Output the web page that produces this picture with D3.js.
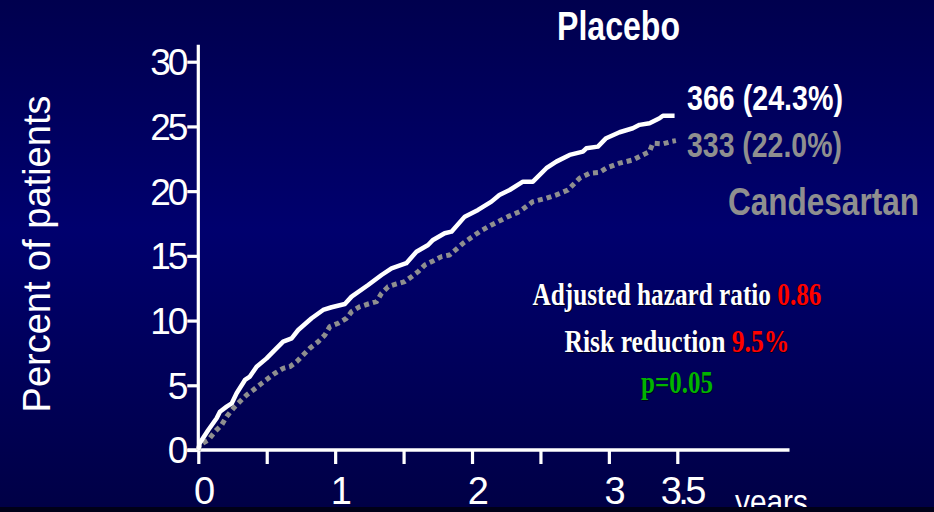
<!DOCTYPE html>
<html>
<head>
<meta charset="utf-8">
<script src="https://cdn.jsdelivr.net/npm/d3@7"></script>
<style>
  html, body { margin: 0; padding: 0; background: #000018; }
  svg { display: block; }
</style>
</head>
<body>
<svg id="chart" width="934" height="512"></svg>
<script>
// ---- Data ----
const placeboYears = [0, 0.01, 0.073, 0.134, 0.158, 0.207, 0.244, 0.28, 0.341, 0.377, 0.426, 0.499, 0.56, 0.62, 0.682, 0.73, 0.828, 0.912, 0.974, 1.071, 1.12, 1.241, 1.339, 1.412, 1.52, 1.594, 1.679, 1.715, 1.8, 1.85, 1.947, 2.044, 2.142, 2.2, 2.275, 2.372, 2.445, 2.543, 2.616, 2.713, 2.81, 2.835, 2.92, 2.98, 3.078, 3.175, 3.224, 3.297, 3.37, 3.395, 3.48];
const placeboPct   = [0, 0.52, 1.55, 2.45, 2.96, 3.35, 3.6, 4.38, 5.41, 5.67, 6.44, 7.08, 7.73, 8.37, 8.63, 9.27, 10.18, 10.82, 11.03, 11.28, 11.85, 12.75, 13.52, 14.04, 14.43, 15.32, 15.84, 16.23, 16.75, 16.87, 18.03, 18.55, 19.19, 19.7, 20.09, 20.73, 20.73, 21.77, 22.28, 22.8, 23.05, 23.31, 23.44, 24.09, 24.55, 24.86, 25.12, 25.25, 25.63, 25.83, 25.83];

const candesartanYears = [0, 0.01, 0.073, 0.122, 0.17, 0.207, 0.256, 0.304, 0.353, 0.402, 0.463, 0.56, 0.62, 0.669, 0.718, 0.766, 0.815, 0.876, 0.925, 0.961, 1.022, 1.083, 1.12, 1.18, 1.241, 1.302, 1.339, 1.387, 1.448, 1.509, 1.558, 1.606, 1.655, 1.715, 1.777, 1.837, 1.934, 2.056, 2.142, 2.263, 2.348, 2.445, 2.543, 2.616, 2.701, 2.786, 2.859, 2.932, 2.98, 3.078, 3.175, 3.248, 3.297, 3.321, 3.394, 3.455, 3.49];
const candesartanPct   = [0, 0.39, 0.77, 1.42, 1.93, 2.58, 3.22, 3.74, 4.25, 4.64, 5.15, 5.93, 6.31, 6.44, 6.82, 7.34, 7.86, 8.37, 8.89, 9.53, 9.79, 10.18, 10.69, 11.07, 11.28, 11.46, 12.11, 12.62, 12.83, 13.01, 13.39, 13.78, 14.3, 14.6, 14.94, 15.07, 15.97, 16.87, 17.39, 18.03, 18.42, 19.19, 19.45, 19.71, 20.09, 21.0, 21.38, 21.45, 21.77, 22.16, 22.41, 22.8, 23.05, 23.7, 23.65, 23.83, 23.9];

const yTickValues = [0, 5, 10, 15, 20, 25, 30];
const xTickValues = [0, 0.5, 1, 1.5, 2, 2.5, 3, 3.5];
const xTickLabels = { 0: "0", 1: "1", 2: "2", 3: "3", 3.5: "3.5" };
const xAxisEnd = 4.32;   // years, extent of the drawn x axis line
const yAxisEnd = 31.3;   // percent, extent of the drawn y axis line

const seriesNames = ["Placebo", "Candesartan"];
const endLabels = ["366 (24.3%)", "333 (22.0%)"];
const statLines = [
  [{ t: "Adjusted hazard ratio ", c: "#ffffff" }, { t: "0.86", c: "#ff0000" }],
  [{ t: "Risk reduction ", c: "#ffffff" }, { t: "9.5%", c: "#ff0000" }],
  [{ t: "p=0.05", c: "#00b400" }]
];

// ---- Drawing ----
const W = 934, H = 512;
const svg = d3.select("#chart");

const defs = svg.append("defs");
const grad = defs.append("linearGradient").attr("id", "bg").attr("x1", 0).attr("y1", 0).attr("x2", 0).attr("y2", 1);
grad.append("stop").attr("offset", "0%").attr("stop-color", "#00004e");
grad.append("stop").attr("offset", "45%").attr("stop-color", "#00006e");
grad.append("stop").attr("offset", "100%").attr("stop-color", "#000046");

svg.append("rect").attr("width", W).attr("height", 507).attr("fill", "url(#bg)");

const x = d3.scaleLinear().domain([0, 3.5]).range([198.3, 677.3]);
const y = d3.scaleLinear().domain([0, 30]).range([450, 61.7]);

const sans = "'Liberation Sans', Arial, sans-serif";
const serif = "'Liberation Serif', 'Times New Roman', serif";

// Condensed text helper: horizontally scales a text so it spans targetW pixels.
function condensed(parent, opts, parts) {
  const t = parent.append("text")
    .attr("font-family", opts.family).attr("font-size", opts.size)
    .attr("font-weight", opts.weight || "normal");
  parts.forEach(p => t.append("tspan").attr("fill", p.c).text(p.t));
  const w = t.node().getComputedTextLength();
  const s = opts.width / w;
  const left = opts.anchor === "middle" ? opts.x - opts.width / 2 : opts.x;
  t.attr("transform", `translate(${left},${opts.y}) scale(${s},1)`);
  if (opts.shadow) t.style("text-shadow", opts.shadow);
  return t;
}

// Y axis
const yAxis = d3.axisLeft(y).tickValues(yTickValues).tickSize(11).tickPadding(4).tickFormat(d3.format("d"));
const gy = svg.append("g").attr("transform", `translate(${x(0)},0)`).call(yAxis);
gy.select(".domain").remove();
gy.selectAll(".tick line").attr("stroke", "#fff").attr("stroke-width", 3.2);
gy.selectAll(".tick text")
  .attr("fill", "#fff").attr("font-family", sans).attr("font-size", 37)
  .attr("letter-spacing", "-3px").attr("dy", "0.35em").attr("x", -13);
svg.append("line")
  .attr("x1", x(0)).attr("x2", x(0))
  .attr("y1", y(yAxisEnd)).attr("y2", y(0))
  .attr("stroke", "#fff").attr("stroke-width", 3.2);

// X axis
const xAxis = d3.axisBottom(x).tickValues(xTickValues).tickSize(14).tickPadding(4)
  .tickFormat(d => xTickLabels[d] !== undefined ? xTickLabels[d] : "");
const gx = svg.append("g").attr("transform", `translate(0,${y(0)})`).call(xAxis);
gx.select(".domain").remove();
gx.selectAll(".tick line").attr("stroke", "#fff").attr("stroke-width", 3.2);
gx.selectAll(".tick text")
  .attr("fill", "#fff").attr("font-family", sans).attr("font-size", 38)
  .attr("letter-spacing", "-3.5px").attr("dy", 0).attr("y", 54).attr("x", 4);
svg.append("line")
  .attr("x1", x(0) - 11).attr("x2", x(xAxisEnd))
  .attr("y1", y(0)).attr("y2", y(0))
  .attr("stroke", "#fff").attr("stroke-width", 3.4);

// Lines
const line = d3.line().x(d => x(d[0])).y(d => y(d[1]));
const candData = d3.zip(candesartanYears, candesartanPct);
const plaData = d3.zip(placeboYears, placeboPct);

svg.append("path").datum(candData).attr("d", line)
  .attr("fill", "none").attr("stroke", "#8f8f8f").attr("stroke-width", 5)
  .attr("stroke-dasharray", "5,4").attr("stroke-linejoin", "round");
svg.append("path").datum(plaData).attr("d", line)
  .attr("fill", "none").attr("stroke", "#ffffff").attr("stroke-width", 4.5)
  .attr("stroke-linejoin", "round");

// Y title
svg.append("text")
  .attr("transform", "translate(50,254) rotate(-90)")
  .attr("text-anchor", "middle").attr("fill", "#fff")
  .attr("font-family", sans).attr("font-size", 38)
  .text("Percent of patients");

// Series titles and end labels
condensed(svg, { family: sans, weight: "bold", size: 41, x: 557, y: 40, width: 123 },
  [{ t: seriesNames[0], c: "#ffffff" }]);
condensed(svg, { family: sans, weight: "bold", size: 39, x: 728, y: 215, width: 191 },
  [{ t: seriesNames[1], c: "#8f8f8f" }]);
condensed(svg, { family: sans, weight: "bold", size: 35, x: 687, y: 110, width: 156 },
  [{ t: endLabels[0], c: "#ffffff" }]);
condensed(svg, { family: sans, weight: "bold", size: 35, x: 687, y: 157, width: 155 },
  [{ t: endLabels[1], c: "#8f8f8f" }]);

// Stats block
const statY = [305, 352, 393];
const statW = [289, 225, 72];
statLines.forEach((parts, i) => {
  condensed(svg, { family: serif, weight: "bold", size: 31, x: 677, y: statY[i], width: statW[i],
    anchor: "middle", shadow: "1px 1px 0 #000020" }, parts);
});

// "years" label (clipped at bottom by dark strip, as in the reference)
condensed(svg, { family: sans, size: 36, x: 735, y: 514, width: 73 }, [{ t: "years", c: "#ffffff" }]);
svg.append("rect").attr("x", 0).attr("y", 507).attr("width", W).attr("height", 5).attr("fill", "#000018");
</script>
</body>
</html>
